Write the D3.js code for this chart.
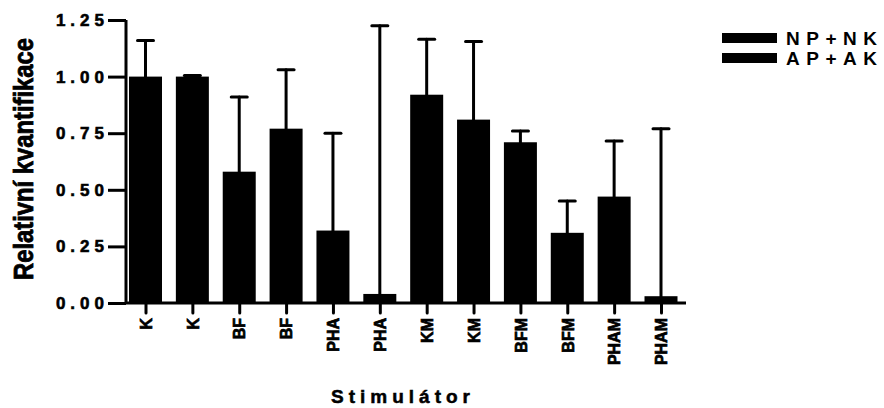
<!DOCTYPE html>
<html>
<head>
<meta charset="utf-8">
<script src="https://cdn.jsdelivr.net/npm/d3@7"></script>
<style>
  body { margin: 0; background: #fff; }
  svg text { font-family: "Liberation Sans", Arial, sans-serif; font-weight: bold; fill: #000; }
</style>
</head>
<body>
<div id="chart"></div>
<script>
// Data
const stimuli = ['K', 'K', 'BF', 'BF', 'PHA', 'PHA', 'KM', 'KM', 'BFM', 'BFM', 'PHAM', 'PHAM'];
const means   = [1.00, 1.00, 0.58, 0.77, 0.32, 0.04, 0.92, 0.81, 0.71, 0.31, 0.47, 0.03];
const errTops = [1.16, 1.005, 0.91, 1.03, 0.75, 1.225, 1.165, 1.155, 0.76, 0.45, 0.715, 0.77];
const seriesNames = ['NP+NK', 'AP+AK'];
const yTicks  = [0, 0.25, 0.5, 0.75, 1.0, 1.25];

const W = 884, H = 408;
const svg = d3.select('#chart').append('svg')
  .attr('width', W).attr('height', H);

const plot = { left: 126, right: 686, top: 20, bottom: 303 };

const x = d3.scalePoint()
  .domain(d3.range(stimuli.length))
  .range([145.5, 661]);

const y = d3.scaleLinear()
  .domain([0, 1.25])
  .range([plot.bottom, plot.top]);

const BAR_W = 33;

// Bars
svg.selectAll('.bar')
  .data(means)
  .enter()
  .append('rect')
  .attr('class', 'bar')
  .attr('x', (d, i) => x(i) - BAR_W / 2)
  .attr('y', d => y(d))
  .attr('width', BAR_W)
  .attr('height', d => y(0) - y(d))
  .attr('fill', '#000');

// Error bars (upper only)
const err = svg.selectAll('.err')
  .data(means.map((m, i) => ({ i, m, top: errTops[i] })))
  .enter()
  .append('g')
  .attr('class', 'err')
  .attr('stroke', '#000')
  .attr('stroke-width', 3)
  .attr('stroke-linecap', 'round');

err.append('line')
  .attr('x1', d => x(d.i)).attr('x2', d => x(d.i))
  .attr('y1', d => y(d.m)).attr('y2', d => y(d.top));

err.append('line')
  .attr('x1', d => x(d.i) - 8).attr('x2', d => x(d.i) + 8)
  .attr('y1', d => y(d.top)).attr('y2', d => y(d.top));

// Y axis
const yAxis = svg.append('g')
  .attr('transform', `translate(${plot.left},0)`)
  .attr('font-size', null)
  .call(d3.axisLeft(y)
    .tickValues(yTicks)
    .tickFormat(d3.format('.2f'))
    .tickSize(18)
    .tickPadding(3));
yAxis.select('.domain')
  .attr('stroke', '#000').attr('stroke-width', 3)
  .attr('d', `M0,${plot.top}V${plot.bottom}`);
yAxis.selectAll('.tick line').attr('stroke', '#000').attr('stroke-width', 3);
yAxis.selectAll('.tick text')
  .attr('font-size', 17)
  .style('font-size', '17px')
  .style('letter-spacing', '5px')
  .attr('stroke', '#000').attr('stroke-width', 0.6)
  .attr('dx', '4px');

// X axis
const xAxis = svg.append('g')
  .attr('transform', `translate(0,${plot.bottom})`)
  .call(d3.axisBottom(x)
    .tickFormat(i => stimuli[i])
    .tickSize(10)
    .tickPadding(6));
xAxis.select('.domain')
  .attr('stroke', '#000').attr('stroke-width', 3)
  .attr('d', `M${plot.left},0H${plot.right}`);
xAxis.selectAll('.tick line')
  .attr('stroke', '#000').attr('stroke-width', 3)
  .attr('stroke-linecap', 'round');
xAxis.selectAll('.tick text')
  .attr('font-size', 16)
  .style('font-size', '16px')
  .attr('stroke', '#000').attr('stroke-width', 0.7)
  .attr('transform', 'rotate(-90)')
  .attr('text-anchor', 'end')
  .attr('x', -15)
  .attr('y', 0)
  .attr('dy', '0.36em');

// Axis titles
svg.append('text')
  .attr('transform', 'translate(33,159) rotate(-90)')
  .attr('text-anchor', 'middle')
  .attr('textLength', 242)
  .attr('lengthAdjust', 'spacingAndGlyphs')
  .attr('stroke', '#000').attr('stroke-width', 0.8)
  .style('font-size', '27px')
  .text('Relativní kvantifikace');

svg.append('text')
  .attr('x', 403).attr('y', 403)
  .attr('text-anchor', 'middle')
  .style('font-size', '19px')
  .style('letter-spacing', '5px')
  .attr('stroke', '#000').attr('stroke-width', 0.5)
  .text('Stimulátor');

// Legend
const legend = svg.selectAll('.legend')
  .data(seriesNames)
  .enter()
  .append('g')
  .attr('class', 'legend')
  .attr('transform', (d, i) => `translate(722,${33 + i * 20})`);

legend.append('rect')
  .attr('width', 55).attr('height', 10)
  .attr('fill', '#000');

legend.append('text')
  .attr('x', 64).attr('y', 12)
  .style('font-size', '19px')
  .style('letter-spacing', '6.5px')
  .text(d => d);
</script>
</body>
</html>
